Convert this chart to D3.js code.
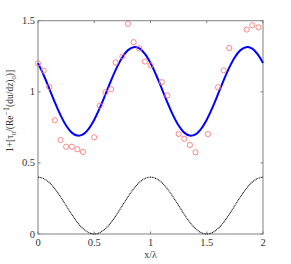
<!DOCTYPE html>
<html>
<head>
<meta charset="utf-8">
<script src="https://cdn.jsdelivr.net/npm/d3@7"></script>
<style>
  body { margin: 0; background: #fff; }
  svg text { font-family: "Liberation Serif", "DejaVu Serif", serif; fill: #333; }
</style>
</head>
<body>
<div id="chart"></div>
<script>
//****data****
const xTicks = [0, 0.5, 1, 1.5, 2];
const yTicks = [0, 0.5, 1, 1.5];
// curve sampled every 0.05 in x/lambda
const curveX = d3.range(41).map(i => i * 0.05);
const shearCurve = [1.202, 1.118, 1.023, 0.925, 0.836, 0.763, 0.713, 0.692, 0.701, 0.740,
                    0.804, 0.888, 0.983, 1.081, 1.170, 1.243, 1.293, 1.314, 1.305, 1.266,
                    1.202, 1.118, 1.023, 0.925, 0.836, 0.763, 0.713, 0.692, 0.701, 0.740,
                    0.804, 0.888, 0.983, 1.081, 1.170, 1.243, 1.293, 1.314, 1.305, 1.266, 1.202];
const wallShape = [0.400, 0.390, 0.362, 0.318, 0.262, 0.200, 0.138, 0.082, 0.038, 0.010,
                   0.000, 0.010, 0.038, 0.082, 0.138, 0.200, 0.262, 0.318, 0.362, 0.390,
                   0.400, 0.390, 0.362, 0.318, 0.262, 0.200, 0.138, 0.082, 0.038, 0.010,
                   0.000, 0.010, 0.038, 0.082, 0.138, 0.200, 0.262, 0.318, 0.362, 0.390, 0.400];
const measX = [0.00, 0.05, 0.10, 0.15, 0.20, 0.25, 0.30, 0.35, 0.40, 0.50, 0.55,
               0.60, 0.65, 0.69, 0.75, 0.80, 0.85, 0.90, 0.95, 1.00, 1.10, 1.15,
               1.25, 1.30, 1.35, 1.40, 1.51, 1.60, 1.65, 1.70, 1.855, 1.905, 1.96];
const measY = [1.200, 1.148, 1.034, 0.800, 0.661, 0.614, 0.614, 0.596, 0.577, 0.680, 0.902,
               0.996, 1.018, 1.206, 1.248, 1.478, 1.349, 1.305, 1.213, 1.185, 1.068, 0.975,
               0.703, 0.670, 0.626, 0.575, 0.703, 1.032, 1.151, 1.308, 1.438, 1.468, 1.454];

const w = 291, h = 264;
const mLeft = 38, mRight = 263, mTop = 20.7, mBottom = 234;
const axisColor = "#808080";

const svg = d3.select("#chart").append("svg")
    .attr("width", w)
    .attr("height", h);

const x = d3.scaleLinear().domain([0, 2]).range([mLeft, mRight]);
const y = d3.scaleLinear().domain([0, 1.5]).range([mBottom, mTop]);

// box
svg.append("rect")
    .attr("x", mLeft).attr("y", mTop)
    .attr("width", mRight - mLeft).attr("height", mBottom - mTop)
    .attr("fill", "none").attr("stroke", axisColor).attr("stroke-width", 1);

// ticks (inward, mirrored) with labels
const tickLen = 2.5;
const g = svg.append("g").attr("stroke", axisColor).attr("stroke-width", 1);
xTicks.forEach(t => {
    g.append("line").attr("x1", x(t)).attr("x2", x(t)).attr("y1", mBottom).attr("y2", mBottom - tickLen);
    g.append("line").attr("x1", x(t)).attr("x2", x(t)).attr("y1", mTop).attr("y2", mTop + tickLen);
});
yTicks.forEach(t => {
    g.append("line").attr("x1", mLeft).attr("x2", mLeft + tickLen).attr("y1", y(t)).attr("y2", y(t));
    g.append("line").attr("x1", mRight).attr("x2", mRight - tickLen).attr("y1", y(t)).attr("y2", y(t));
});

svg.selectAll(".xlab").data(xTicks).enter().append("text")
    .attr("x", d => x(d)).attr("y", mBottom + 12)
    .attr("text-anchor", "middle").attr("font-size", 10.5)
    .text(d => d);
svg.selectAll(".ylab").data(yTicks).enter().append("text")
    .attr("x", mLeft - 3).attr("y", d => y(d) + 3.5)
    .attr("text-anchor", "end").attr("font-size", 10.5)
    .text(d => d);

// axis titles
svg.append("text")
    .attr("x", x(1)).attr("y", mBottom + 24)
    .attr("text-anchor", "middle").attr("font-size", 10)
    .text("x/λ");

const yl = svg.append("text")
    .attr("transform", "translate(13,111) rotate(-90)")
    .attr("text-anchor", "middle").attr("font-size", 9.5);
yl.append("tspan").text("1+[τ");
yl.append("tspan").attr("font-size", 6.5).attr("dy", 2.5).text("0");
yl.append("tspan").attr("dy", -2.5).text("/(Re");
yl.append("tspan").attr("font-size", 8).attr("dy", -4).text("−1");
yl.append("tspan").attr("dy", 4).text("(du/dz)");
yl.append("tspan").attr("font-size", 6.5).attr("dy", 2.5).text("0");
yl.append("tspan").attr("dy", -2.5).text(")]");

// lines
const line = d3.line()
    .x((d, i) => x(curveX[i]))
    .y(d => y(d))
    .curve(d3.curveCatmullRom);

svg.append("path")
    .datum(wallShape)
    .attr("d", line)
    .attr("fill", "none")
    .attr("stroke", "#111")
    .attr("stroke-width", 1.1)
    .attr("stroke-dasharray", "1,0.7");

svg.append("path")
    .datum(shearCurve)
    .attr("d", line)
    .attr("fill", "none")
    .attr("stroke", "#0000ff")
    .attr("stroke-width", 2);

svg.selectAll(".pt").data(measX).enter().append("circle")
    .attr("cx", d => x(d))
    .attr("cy", (d, i) => y(measY[i]))
    .attr("r", 2.6)
    .attr("fill", "none")
    .attr("stroke", "#ff7b7b")
    .attr("stroke-width", 0.9);
</script>
</body>
</html>
